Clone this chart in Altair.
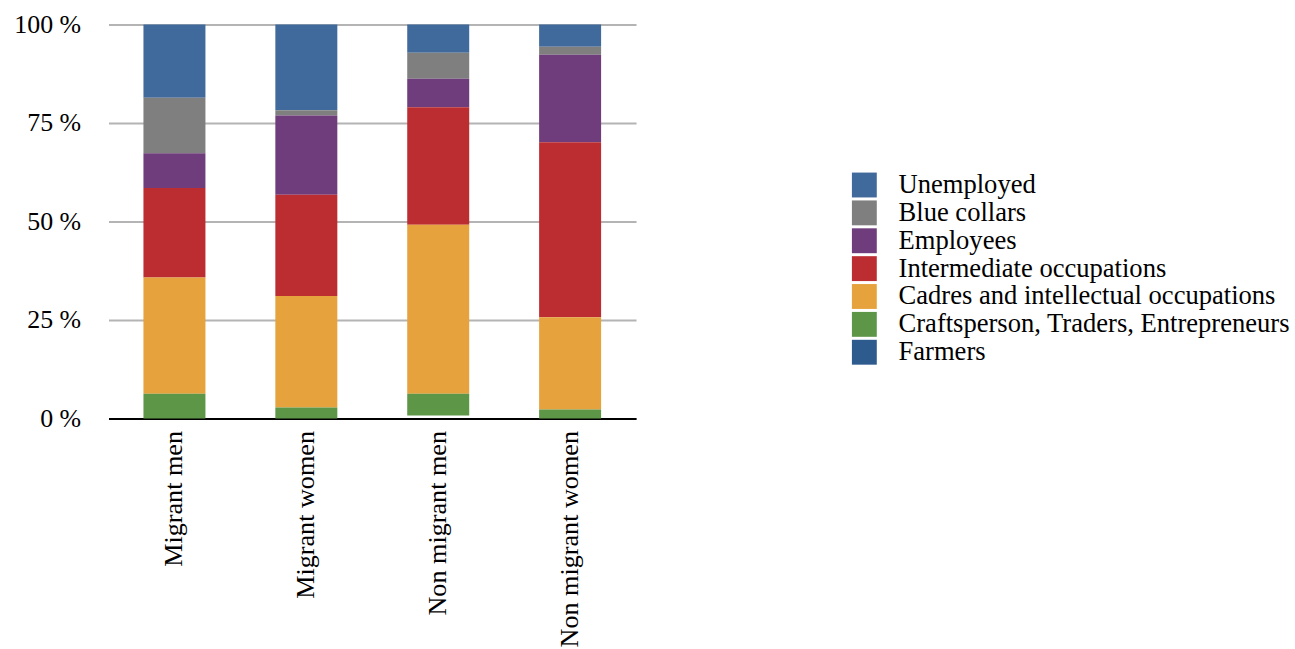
import altair as alt
import pandas as pd

groups = ["Migrant men", "Migrant women", "Non migrant men", "Non migrant women"]
occupations = ["Unemployed", "Blue collars", "Employees", "Intermediate occupations",
               "Cadres and intellectual occupations", "Craftsperson, Traders, Entrepreneurs", "Farmers"]
colors = ["#416a9c", "#7f7f7f", "#6f3d7b", "#bb2d31", "#e6a23c", "#5e9648", "#2e5b8e"]

unemployed = [18.6, 21.8, 7.2, 5.7]
blue_collars = [14.1, 1.3, 6.6, 2.0]
employees = [8.8, 20.1, 7.2, 22.2]
intermediate = [22.7, 25.7, 29.8, 44.4]
cadres = [29.5, 28.3, 42.9, 23.4]
craft = [6.3, 2.8, 5.5, 2.3]
farmers = [0.0, 0.0, 0.8, 0.0]

series = [unemployed, blue_collars, employees, intermediate, cadres, craft, farmers]
rows = []
for occ_i, (occ, vals) in enumerate(zip(occupations, series)):
    for g, v in zip(groups, vals):
        rows.append({"group": g, "occupation": occ, "value": v / 100.0,
                     "stack_order": len(occupations) - occ_i})
df = pd.DataFrame(rows)

FONT = "Liberation Serif"

chart = alt.Chart(df).mark_bar().encode(
    x=alt.X("group:N", sort=groups, title=None,
            scale=alt.Scale(paddingInner=0.53, paddingOuter=0.265),
            axis=alt.Axis(labelAngle=-90, labelAlign="right", labelBaseline="middle",
                          labelFont=FONT, labelFontSize=26.3, labelColor="#000000",
                          labelPadding=12, ticks=False, domainColor="#000000",
                          domainWidth=2, labelLimit=400)),
    y=alt.Y("value:Q", stack="zero", title=None,
            scale=alt.Scale(domain=[0, 1], nice=False),
            axis=alt.Axis(values=[0, 0.25, 0.5, 0.75, 1.0], labelExpr="round(datum.value*100) + ' %'",
                          labelFont=FONT, labelFontSize=26, labelColor="#000000",
                          labelPadding=28, ticks=False, domain=False,
                          gridColor="#b4b4b4", gridWidth=2)),
    color=alt.Color("occupation:N", scale=alt.Scale(domain=occupations, range=colors),
                    legend=alt.Legend(title=None, orient="none", legendX=746, legendY=148,
                                      labelFont=FONT, labelFontSize=26.7, labelColor="#000000",
                                      symbolType="square", symbolSize=625, symbolStrokeWidth=0,
                                      symbolOpacity=1, labelOffset=21, rowPadding=0,
                                      labelLimit=600)),
    order=alt.Order("stack_order:Q", sort="ascending"),
    opacity=alt.condition(alt.datum.occupation == "Farmers", alt.value(0), alt.value(1)),
).properties(
    width=530, height=396,
    padding={"left": 13, "top": 10, "right": 5, "bottom": 5},
).configure(font=FONT).configure_view(stroke=None).configure_legend(
    labelFont=FONT, labelFontSize=26.7
).configure_axis(
    gridColor="#b4b4b4"
)

chart.save("out.html", embed_options={"renderer": "svg", "actions": False})
